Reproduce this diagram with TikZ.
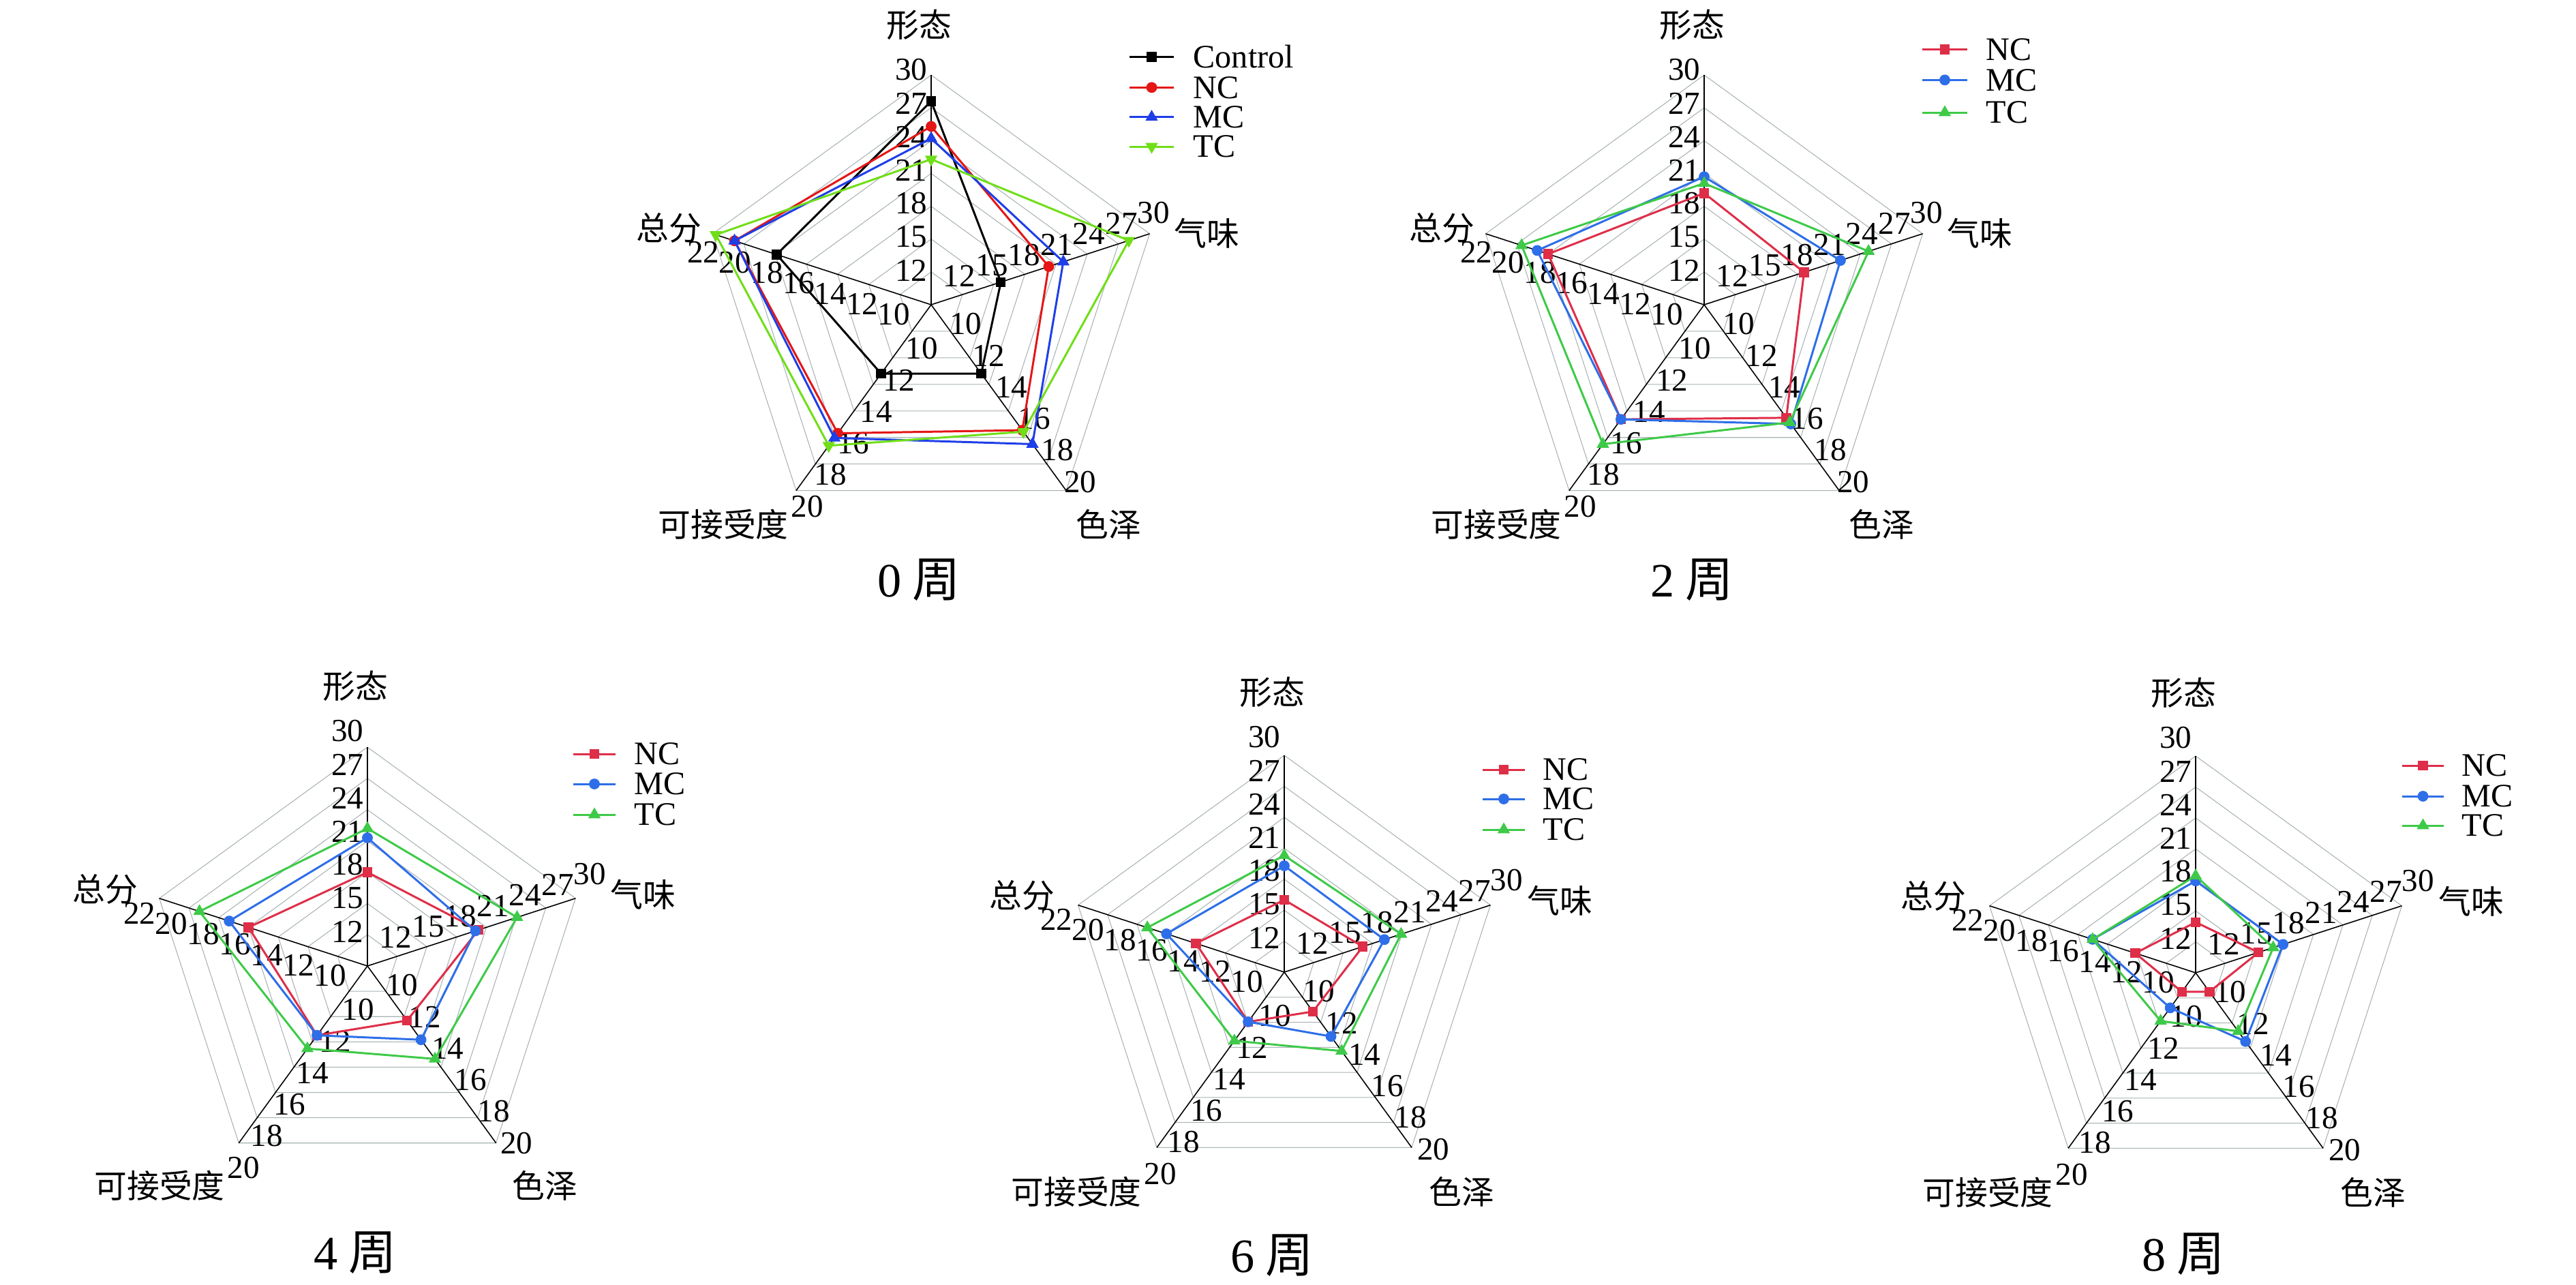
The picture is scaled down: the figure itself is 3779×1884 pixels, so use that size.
\documentclass[tikz,border=0pt]{standalone}
\usepackage{fontspec}
\setmainfont{Liberation Serif}
\newfontfamily\cjk{Noto Sans CJK SC}
\usetikzlibrary{calc,shapes.geometric}

\definecolor{gridc}{RGB}{168,178,180}
\definecolor{redA}{RGB}{228,22,22}
\definecolor{blueA}{RGB}{30,62,232}
\definecolor{greenA}{RGB}{112,222,24}
\definecolor{redB}{RGB}{222,46,72}
\definecolor{blueB}{RGB}{46,110,232}
\definecolor{greenB}{RGB}{62,202,72}

\tikzset{
  gridline/.style={draw=gridc, line width=0.3pt},
  axisline/.style={draw=black, line width=0.45pt},
  dataline/.style={line width=0.85pt, line join=round},
  ticklab/.style={font=\fontsize{13.4}{15}\selectfont, inner sep=0pt},
  axlab/.style={font=\cjk\fontsize{13.6}{15}\selectfont, inner sep=0pt},
  titlab/.style={font=\fontsize{20}{22}\selectfont, inner sep=0pt},
  leglab/.style={font=\fontsize{13.7}{15}\selectfont, inner sep=0pt, anchor=west},
  msq/.style={rectangle, inner sep=0pt, minimum size=4.1pt, draw=none},
  mci/.style={circle, inner sep=0pt, minimum size=4.5pt, draw=none},
  mtu/.style={regular polygon, regular polygon sides=3, inner sep=0pt, minimum size=6pt, draw=none},
  mtd/.style={mtu, shape border rotate=180}
}

% #1 id, #2 cx, #3 cy, #4 R, #5 week, #6 title dy
\newcommand\radar[6]{%
  \def\RR{#4}%
  \coordinate (#1c) at (#2,#3);
  \foreach \j in {1,...,7}{
    \pgfmathsetmacro\rr{\j*\RR/7}
    \draw[gridline] ($(#1c)+(-90:\rr)$) -- ($(#1c)+(-18:\rr)$) -- ($(#1c)+(54:\rr)$)
      -- ($(#1c)+(126:\rr)$) -- ($(#1c)+(198:\rr)$) -- cycle;
  }
  \foreach \a [count=\k from 0] in {-90,-18,54,126,198}{
    \coordinate (#1v\k) at ($(#1c)+(\a:\RR)$);
    \draw[axisline] (#1c) -- (#1v\k);
  }
  \foreach \t [count=\j] in {12,15,18,21,24,27,30}{
    \node[ticklab] (#1tx\j) at ($(#1c)+(-29.4,{-49*\j-1.5})$) {\t};
    \node[ticklab] (#1tq\j) at ($(#1c)+({47.5*\j-6},{-15.4*\j-27})$) {\t};
  }
  \foreach \t [count=\j] in {10,12,14,16,18,20}{
    \node[ticklab] (#1ts\j) at ($(#1c)+({33.6*\j+17},{46.3*\j-18})$) {\t};
    \node[ticklab] (#1tk\j) at ($(#1c)+({-33.6*\j+20},{46.3*\j+18})$) {\t};
  }
  \foreach \t [count=\j] in {10,12,14,16,18,20,22}{
    \node[ticklab] (#1tz\j) at ($(#1c)+({-46.6*\j-8},{-15.1*\j+29})$) {\t};
  }
  \node[axlab] (#1n0) at ($(#1c)+(-18,-411)$) {形态};
  \node[axlab] (#1n1) at ($(#1c)+(404,-105)$) {气味};
  \node[axlab] (#1n2) at ($(#1c)+(260,322)$) {色泽};
  \node[axlab] (#1n3) at ($(#1c)+(-305,322)$) {可接受度};
  \node[axlab] (#1n4) at ($(#1c)+(-385,-113)$) {总分};
  \node[titlab] (#1title) at ($(#1c)+(-18,#6)$) {#5\hspace{0.22em}{\cjk 周}};
}

% #1 id, #2 series id, #3 colour, #4 marker, #5 values
\newcommand\rseries[5]{%
  \foreach \v [count=\k from 0] in {#5}{
    \pgfmathsetmacro\mn{{9,9,8,8,8}[\k]}
    \pgfmathsetmacro\mx{{30,30,20,20,22}[\k]}
    \pgfmathsetmacro\an{{-90,-18,54,126,198}[\k]}
    \pgfmathsetmacro\dd{(\v-\mn)/(\mx-\mn)*\RR}
    \coordinate (#1#2p\k) at ($(#1c)+(\an:\dd)$);
  }
  \draw[dataline, draw=#3] (#1#2p0) -- (#1#2p1) -- (#1#2p2) -- (#1#2p3) -- (#1#2p4) -- cycle;
  \foreach \k in {0,...,4}{
    \node[#4, fill=#3] (#1#2m\k) at (#1#2p\k) {};
  }
}

% #1 id, #2 row, #3 x1, #4 x2, #5 y, #6 text x, #7 colour, #8 marker, #9 text
\newcommand\legitem[9]{%
  \coordinate (#1la#2) at (#3,#5);
  \coordinate (#1lb#2) at (#4,#5);
  \draw[dataline, draw=#7] (#1la#2) -- (#1lb#2);
  \node[#8, fill=#7] (#1lm#2) at ($(#1la#2)!0.5!(#1lb#2)$) {};
  \node[leglab] (#1lt#2) at (#6,#5) {#9};
}

\begin{document}
\begin{tikzpicture}[x=0.01cm,y=-0.01cm]
\useasboundingbox (0,0) rectangle (3779,1884);

% ---------- 0 weeks ----------
\radar{A}{1366}{447}{337}{0}{404}
\rseries{A}{ct}{black}{msq}{27.6,15.7,12.45,12.45,17.9}
\rseries{A}{nc}{redA}{mci}{25.3,20.3,16.1,16.3,20.6}
\rseries{A}{mc}{blueA}{mtu}{24.2,21.7,17.0,16.6,20.6}
\rseries{A}{tc}{greenA}{mtd}{22.3,28.0,16.2,17.1,21.8}
\legitem{A}{1}{1657}{1722}{83.3}{1750}{black}{msq}{Control}
\legitem{A}{2}{1657}{1722}{128.3}{1750}{redA}{mci}{NC}
\legitem{A}{3}{1657}{1722}{171.7}{1750}{blueA}{mtu}{MC}
\legitem{A}{4}{1657}{1722}{215}{1750}{greenA}{mtd}{TC}

% ---------- 2 weeks ----------
\radar{B}{2500}{447}{337}{2}{404}
\rseries{B}{nc}{redB}{msq}{19.2,18.6,15.3,15.4,18.0}
\rseries{B}{mc}{blueB}{mci}{20.7,22.1,15.7,15.4,18.7}
\rseries{B}{tc}{greenB}{mtu}{20.1,24.8,15.6,17.0,19.7}
\legitem{B}{1}{2820}{2886}{72.7}{2913}{redB}{msq}{NC}
\legitem{B}{2}{2820}{2886}{117.3}{2913}{blueB}{mci}{MC}
\legitem{B}{3}{2820}{2886}{165}{2913}{greenB}{mtu}{TC}

% ---------- 4 weeks ----------
\radar{C}{539}{1417}{321}{4}{421}
\rseries{C}{nc}{redB}{msq}{18.0,20.2,11.7,12.7,16.0}
\rseries{C}{mc}{blueB}{mci}{21.3,19.9,13.0,12.7,17.3}
\rseries{C}{tc}{greenB}{mtu}{22.2,24.1,14.3,13.6,19.3}
\legitem{C}{1}{841}{903}{1106}{930}{redB}{msq}{NC}
\legitem{C}{2}{841}{903}{1150}{930}{blueB}{mci}{MC}
\legitem{C}{3}{841}{903}{1195}{930}{greenB}{mtu}{TC}

% ---------- 6 weeks ----------
\radar{D}{1884}{1426}{318}{6}{416}
\rseries{D}{nc}{redB}{msq}{16.0,17.0,10.7,11.4,14.0}
\rseries{D}{mc}{blueB}{mci}{19.3,19.2,12.4,11.4,16.0}
\rseries{D}{tc}{greenB}{mtu}{20.3,20.9,13.4,12.7,17.3}
\legitem{D}{1}{2175}{2237}{1129}{2263}{redB}{msq}{NC}
\legitem{D}{2}{2175}{2237}{1172}{2263}{blueB}{mci}{MC}
\legitem{D}{3}{2175}{2237}{1217}{2263}{greenB}{mtu}{TC}

% ---------- 8 weeks ----------
\radar{E}{3221}{1427}{318}{8}{413}
\rseries{E}{nc}{redB}{msq}{13.9,15.4,9.3,9.3,12.1}
\rseries{E}{mc}{blueB}{mci}{17.9,17.9,12.7,10.4,15.0}
\rseries{E}{tc}{greenB}{mtu}{18.4,16.9,12.0,11.3,15.0}
\legitem{E}{1}{3524}{3585}{1123}{3611}{redB}{msq}{NC}
\legitem{E}{2}{3524}{3585}{1168}{3611}{blueB}{mci}{MC}
\legitem{E}{3}{3524}{3585}{1211}{3611}{greenB}{mtu}{TC}

\end{tikzpicture}
\end{document}
